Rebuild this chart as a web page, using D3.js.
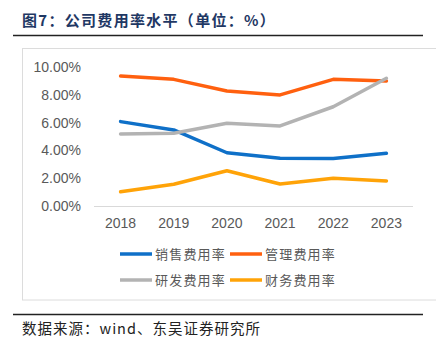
<!DOCTYPE html>
<html><head><meta charset="utf-8">
<script src="https://cdn.jsdelivr.net/npm/d3@7"></script>
<style>body{margin:0;background:#fff}svg{display:block}</style>
</head><body>
<script>
const years = ["2018","2019","2020","2021","2022","2023"];
const seriesNames = ["销售费用率","管理费用率","研发费用率","财务费用率"];
const sales = [6.07,5.47,3.83,3.43,3.42,3.79];
const admin = [9.35,9.11,8.27,7.99,9.11,8.99];
const rnd = [5.18,5.23,5.95,5.76,7.14,9.19];
const fin = [1.03,1.56,2.54,1.58,1.99,1.80];
const yTicks = [0,2,4,6,8,10];
const colors = ["#0f70c8","#ff600f","#b3b3b3","#ffa308"];
const series = [sales, admin, rnd, fin];

const W=436,H=344;
const svg=d3.select("body").append("svg").attr("width",W).attr("height",H);
const cjk="'Noto Sans CJK SC',sans-serif";

svg.append("text").attr("x",22).attr("y",26).attr("font-family",cjk).attr("font-weight","bold")
  .attr("font-size",15).attr("letter-spacing",1.3).attr("fill","#1f3864").text("图7：公司费用率水平（单位：%）");
svg.append("line").attr("x1",13).attr("x2",423).attr("y1",35.5).attr("y2",35.5).attr("stroke","#222").attr("stroke-width",1.6);
svg.append("rect").attr("x",22.5).attr("y",48.5).attr("width",430).attr("height",251.5).attr("fill","none").attr("stroke","#dcdcdc");
svg.append("line").attr("x1",13).attr("x2",423).attr("y1",314.5).attr("y2",314.5).attr("stroke","#222").attr("stroke-width",1.6);
svg.append("text").attr("x",22).attr("y",334).attr("font-family",cjk).attr("font-size",14.5).attr("letter-spacing",1).attr("fill","#222").text("数据来源：wind、东吴证券研究所");

const x=d3.scaleBand().domain(years).range([94,413]);
const y=d3.scaleLinear().domain([0,10]).range([206,67]);

svg.append("line").attr("x1",94).attr("x2",413).attr("y1",206.5).attr("y2",206.5).attr("stroke","#d9d9d9").attr("stroke-width",1);

svg.append("g").selectAll("text").data(yTicks).join("text")
  .attr("x",81).attr("y",d=>y(d)+5).attr("text-anchor","end")
  .attr("font-family","'Liberation Sans',Arial,sans-serif").attr("font-size",14).attr("fill","#595959")
  .text(d=>d3.format(".2f")(d)+"%");
svg.append("g").selectAll("text").data(years).join("text")
  .attr("x",d=>x(d)+x.bandwidth()/2).attr("y",228).attr("text-anchor","middle")
  .attr("font-family","'Liberation Sans',Arial,sans-serif").attr("font-size",14).attr("fill","#595959")
  .text(d=>d);

const line=d3.line().x((d,i)=>x(years[i])+x.bandwidth()/2).y(d=>y(d));
series.forEach((s,k)=>{
  svg.append("path").attr("d",line(s)).attr("fill","none").attr("stroke",colors[k])
    .attr("stroke-width",3.5).attr("stroke-linejoin","round").attr("stroke-linecap","round");
});

const legPos=[[120,254],[230,254],[120,280],[230,280]];
seriesNames.forEach((n,k)=>{
  const [lx,ly]=legPos[k];
  svg.append("line").attr("x1",lx).attr("x2",lx+32).attr("y1",ly).attr("y2",ly).attr("stroke",colors[k]).attr("stroke-width",3.5);
  svg.append("text").attr("x",lx+35).attr("y",ly+5).attr("font-family",cjk).attr("font-size",13).attr("letter-spacing",1.2).attr("fill","#595959").text(n);
});
</script>
</body></html>
